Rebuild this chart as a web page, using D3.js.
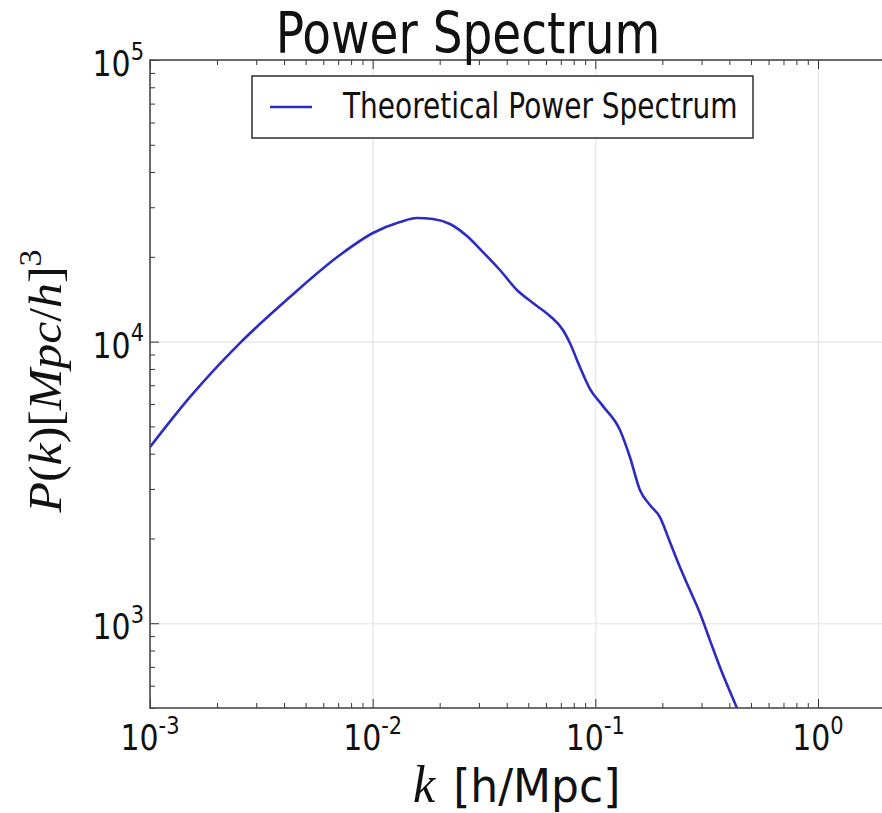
<!DOCTYPE html>
<html>
<head>
<meta charset="utf-8">
<script src="https://cdn.jsdelivr.net/npm/d3@7"></script>
<style>
  body { margin: 0; background: #fff; }
  svg { display: block; }
</style>
</head>
<body>
<script>
// data
var kValues = [0.001, 0.00151, 0.00254, 0.00425, 0.00713, 0.01003, 0.01326, 0.01581, 0.01866, 0.02224,
               0.02651, 0.03128, 0.03728, 0.04446, 0.05247, 0.06253, 0.07155, 0.07689, 0.08527, 0.09456,
               0.1082, 0.1290, 0.1430, 0.1586, 0.1759, 0.1950, 0.2163, 0.2398, 0.2659, 0.2949,
               0.3270, 0.3626, 0.4324, 0.5];
var pValues = [4224, 6350, 9900, 14400, 20300, 24300, 26590, 27480, 27250, 26160,
               23710, 20800, 17960, 15250, 13710, 12330, 11000, 9886, 8123, 6800,
               5900, 4856, 3892, 2972, 2628, 2383, 1943, 1583, 1312, 1087,
               871, 699, 500, 376];
var xTicks = [1e-3, 1e-2, 1e-1, 1];
var xTickExp = ["-3", "-2", "-1", "0"];
var yTicks = [1e3, 1e4, 1e5];
var yTickExp = ["3", "4", "5"];
var titleText = "Power Spectrum";
var legendLabel = "Theoretical Power Spectrum";

var W = 882, H = 813;
var plot = {left: 150, top: 60, right: 885, bottom: 708};
var sy = 1.17; // picture is squashed a bit, text looks taller than wide
var sans = "'DejaVu Sans', sans-serif";
var serif = "'Liberation Serif', 'DejaVu Serif', serif";

var svg = d3.select("body").append("svg")
    .attr("width", W)
    .attr("height", H);

var x = d3.scaleLog().domain([1e-3, 2]).range([plot.left, plot.right]);
var y = d3.scaleLog().domain([500, 1e5]).range([plot.bottom, plot.top]);

var xMinor = x.ticks().filter(function(v) { return xTicks.indexOf(v) < 0; });
var yMinor = y.ticks().filter(function(v) { return yTicks.indexOf(v) < 0; });

// grid
svg.append("g")
    .attr("transform", "translate(0," + plot.bottom + ")")
    .call(d3.axisBottom(x).tickValues(xTicks).tickSize(-(plot.bottom - plot.top)).tickFormat(""))
    .call(function(g) {
      g.select(".domain").remove();
      g.selectAll("line").attr("stroke", "#e4e4e4").attr("stroke-width", 1.2);
    });
svg.append("g")
    .attr("transform", "translate(" + plot.left + ",0)")
    .call(d3.axisLeft(y).tickValues(yTicks).tickSize(-(plot.right - plot.left)).tickFormat(""))
    .call(function(g) {
      g.select(".domain").remove();
      g.selectAll("line").attr("stroke", "#e4e4e4").attr("stroke-width", 1.2);
    });

// curve
svg.append("clipPath").attr("id", "clip")
  .append("rect")
    .attr("x", plot.left).attr("y", plot.top)
    .attr("width", plot.right - plot.left).attr("height", plot.bottom - plot.top);

var line = d3.line()
    .x(function(d, i) { return x(kValues[i]); })
    .y(function(d, i) { return y(pValues[i]); })
    .curve(d3.curveMonotoneX);

svg.append("path")
    .datum(kValues)
    .attr("clip-path", "url(#clip)")
    .attr("d", line)
    .attr("fill", "none")
    .attr("stroke", "#2c2cc0")
    .attr("stroke-width", 2.6)
    .attr("stroke-linejoin", "round");

// ticks, inside, on all sides
function tickAxis(axis, tf, vals, len) {
  svg.append("g")
      .attr("transform", tf)
      .call(axis.tickValues(vals).tickSize(len).tickFormat(""))
      .call(function(g) {
        g.select(".domain").remove();
        g.selectAll("line").attr("stroke", "#333").attr("stroke-width", 1);
      });
}
tickAxis(d3.axisBottom(x), "translate(0," + plot.bottom + ")", xTicks, -9);
tickAxis(d3.axisBottom(x), "translate(0," + plot.bottom + ")", xMinor, -5);
tickAxis(d3.axisTop(x), "translate(0," + plot.top + ")", xTicks, -9);
tickAxis(d3.axisTop(x), "translate(0," + plot.top + ")", xMinor, -5);
tickAxis(d3.axisLeft(y), "translate(" + plot.left + ",0)", yTicks, -9);
tickAxis(d3.axisLeft(y), "translate(" + plot.left + ",0)", yMinor, -5);

// frame
svg.append("rect")
    .attr("x", plot.left).attr("y", plot.top)
    .attr("width", plot.right - plot.left).attr("height", plot.bottom - plot.top)
    .attr("fill", "none")
    .attr("stroke", "#4a4a4a")
    .attr("stroke-width", 1.6);

// tick labels
xTicks.forEach(function(v, i) {
  var t = svg.append("text")
      .attr("transform", "translate(" + x(v) + ",750) scale(1," + sy + ")")
      .attr("text-anchor", "middle")
      .attr("font-family", sans)
      .attr("font-size", 30)
      .attr("fill", "#111");
  t.append("tspan").text("10");
  t.append("tspan").attr("font-size", 21).attr("dy", -14).text(xTickExp[i]);
});
yTicks.forEach(function(v, i) {
  var t = svg.append("text")
      .attr("transform", "translate(144," + (y(v) + 16) + ") scale(1," + sy + ")")
      .attr("text-anchor", "end")
      .attr("font-family", sans)
      .attr("font-size", 30)
      .attr("fill", "#111");
  t.append("tspan").text("10");
  t.append("tspan").attr("font-size", 21).attr("dy", -14).text(yTickExp[i]);
});

// title
svg.append("text")
    .attr("transform", "translate(468,53) scale(1,1.2)")
    .attr("text-anchor", "middle")
    .attr("font-family", sans)
    .attr("font-size", 47)
    .attr("fill", "#111")
    .text(titleText);

// axis labels
var xl = svg.append("text")
    .attr("transform", "translate(413,802) scale(1,1.05)")
    .attr("font-size", 44)
    .attr("fill", "#111");
xl.append("tspan").attr("font-family", serif).attr("font-style", "italic").attr("font-size", 50).text("k");
xl.append("tspan").attr("font-family", sans).attr("dx", 18).text("[h/Mpc]");

var yl = svg.append("text")
    .attr("transform", "translate(61,381) rotate(-90)")
    .attr("text-anchor", "middle")
    .attr("font-family", serif)
    .attr("font-size", 47)
    .attr("fill", "#111")
    .attr("textLength", 263)
    .attr("lengthAdjust", "spacingAndGlyphs");
yl.append("tspan").attr("font-style", "italic").text("P");
yl.append("tspan").text("(");
yl.append("tspan").attr("font-style", "italic").text("k");
yl.append("tspan").text(")[");
yl.append("tspan").attr("font-style", "italic").text("Mpc");
yl.append("tspan").text("/");
yl.append("tspan").attr("font-style", "italic").text("h");
yl.append("tspan").text("]");
yl.append("tspan").attr("font-size", 32).attr("dy", -20).text("3");

// legend
var lg = svg.append("g");
lg.append("rect")
    .attr("x", 252).attr("y", 76)
    .attr("width", 501).attr("height", 62)
    .attr("fill", "#fff")
    .attr("stroke", "#3a3a3a")
    .attr("stroke-width", 1.6);
lg.append("line")
    .attr("x1", 270).attr("x2", 312)
    .attr("y1", 107).attr("y2", 107)
    .attr("stroke", "#2c2cc0")
    .attr("stroke-width", 2.6);
lg.append("text")
    .attr("transform", "translate(343,118) scale(1,1.25)")
    .attr("font-family", sans)
    .attr("font-size", 28)
    .attr("fill", "#111")
    .text(legendLabel);
</script>
</body>
</html>
